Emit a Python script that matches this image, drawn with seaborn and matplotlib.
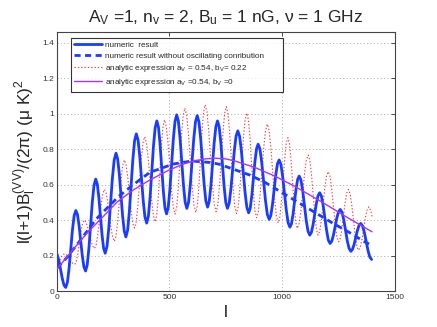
import numpy as np
import pandas as pd
import matplotlib
matplotlib.use("Agg")
import matplotlib.pyplot as plt
import seaborn as sns

# ---- data ----
# numeric result (solid blue)
l_num = [2, 10, 17.5, 25, 32.5, 40,
         47.5, 55, 62.5, 70, 77.5, 85,
         92.2, 99.3, 106.5, 113.7, 120.8, 128,
         135.5, 143, 150.5, 158, 165.5, 173,
         180, 187, 194, 201, 208, 215,
         223, 231, 239, 247, 255, 263,
         270.3, 277.7, 285, 292.3, 299.7, 307,
         314.7, 322.3, 330, 337.7, 345.3, 353,
         360.7, 368.3, 376, 383.7, 391.3, 399,
         406.5, 414, 421.5, 429, 436.5, 444,
         451.2, 458.3, 465.5, 472.7, 479.8, 487,
         494.5, 502, 509.5, 517, 524.5, 532,
         539.5, 547, 554.5, 562, 569.5, 577,
         584.7, 592.3, 600, 607.7, 615.3, 623,
         630.7, 638.3, 646, 653.7, 661.3, 669,
         676.3, 683.7, 691, 698.3, 705.7, 713,
         720.3, 727.7, 735, 742.3, 749.7, 757,
         764.7, 772.3, 780, 787.7, 795.3, 803,
         811, 819, 827, 835, 843, 851,
         858, 865, 872, 879, 886, 893,
         901.2, 909.3, 917.5, 925.7, 933.8, 942,
         949.3, 956.7, 964, 971.3, 978.7, 986,
         994, 1002, 1010, 1018, 1026, 1034,
         1040.8, 1047.7, 1054.5, 1061.3, 1068.2, 1075,
         1082.8, 1090.7, 1098.5, 1106.3, 1114.2, 1122,
         1129.3, 1136.7, 1144, 1151.3, 1158.7, 1166,
         1173.7, 1181.3, 1189, 1196.7, 1204.3, 1212,
         1219.5, 1227, 1234.5, 1242, 1249.5, 1257,
         1264.8, 1272.7, 1280.5, 1288.3, 1296.2, 1304,
         1311.3, 1318.7, 1326, 1333.3, 1340.7, 1348,
         1356, 1364, 1372, 1380, 1388, 1396]
v_num = [0.207, 0.17, 0.12, 0.07, 0.033, 0.02,
         0.049, 0.1285, 0.237, 0.3455, 0.425, 0.454,
         0.431, 0.369, 0.284, 0.198, 0.136, 0.113,
         0.148, 0.243, 0.372, 0.502, 0.596, 0.631,
         0.603, 0.527, 0.422, 0.318, 0.241, 0.213,
         0.251, 0.354, 0.495, 0.636, 0.739, 0.777,
         0.745, 0.659, 0.541, 0.423, 0.337, 0.305,
         0.344, 0.450, 0.596, 0.741, 0.847, 0.886,
         0.852, 0.760, 0.635, 0.509, 0.417, 0.383,
         0.422, 0.527, 0.671, 0.815, 0.920, 0.959,
         0.924, 0.828, 0.697, 0.566, 0.470, 0.435,
         0.472, 0.575, 0.714, 0.854, 0.956, 0.993,
         0.958, 0.861, 0.730, 0.598, 0.501, 0.466,
         0.501, 0.597, 0.728, 0.858, 0.954, 0.989,
         0.954, 0.860, 0.731, 0.602, 0.508, 0.473,
         0.506, 0.595, 0.716, 0.838, 0.926, 0.959,
         0.926, 0.836, 0.713, 0.589, 0.499, 0.466,
         0.495, 0.575, 0.685, 0.794, 0.874, 0.903,
         0.872, 0.788, 0.672, 0.557, 0.472, 0.441,
         0.467, 0.538, 0.635, 0.731, 0.802, 0.828,
         0.800, 0.722, 0.616, 0.510, 0.432, 0.404,
         0.426, 0.488, 0.572, 0.655, 0.717, 0.739,
         0.714, 0.644, 0.550, 0.455, 0.385, 0.36,
         0.379, 0.432, 0.504, 0.576, 0.629, 0.648,
         0.626, 0.565, 0.482, 0.398, 0.337, 0.315,
         0.331, 0.375, 0.435, 0.494, 0.538, 0.554,
         0.535, 0.483, 0.411, 0.340, 0.287, 0.268,
         0.281, 0.316, 0.364, 0.412, 0.447, 0.46,
         0.444, 0.401, 0.342, 0.283, 0.240, 0.224,
         0.235, 0.263, 0.303, 0.342, 0.371, 0.381,
         0.367, 0.330, 0.280, 0.229, 0.192, 0.178]

# numeric result without oscillating contribution (dashed blue)
l_mean = [2, 44, 103, 174, 211, 273, 341, 413, 517, 598, 687, 723, 805, 856, 923, 1004, 1078, 1152, 1226,
          1292, 1366, 1385]
v_mean = [0.13, 0.187, 0.283, 0.404, 0.452, 0.531, 0.601, 0.669, 0.716, 0.733, 0.724, 0.714, 0.677, 0.654,
          0.613, 0.551, 0.494, 0.4375, 0.381, 0.334, 0.277, 0.265]

# analytic expression b_V = 0.22 (red dotted)
l_ana = [2, 5, 12.5, 20, 27.5, 35,
         42.5, 50, 57.5, 65, 72.5, 80,
         87, 94, 101, 108, 115, 122,
         129.7, 137.3, 145, 152.7, 160.3, 168,
         175.3, 182.7, 190, 197.3, 204.7, 212,
         219.3, 226.7, 234, 241.3, 248.7, 256,
         263.3, 270.7, 278, 285.3, 292.7, 300,
         307.5, 315, 322.5, 330, 337.5, 345,
         352.5, 360, 367.5, 375, 382.5, 390,
         397.8, 405.7, 413.5, 421.3, 429.2, 437,
         443.8, 450.7, 457.5, 464.3, 471.2, 478,
         485.8, 493.7, 501.5, 509.3, 517.2, 525,
         532.2, 539.3, 546.5, 553.7, 560.8, 568,
         576.2, 584.3, 592.5, 600.7, 608.8, 617,
         623.8, 630.7, 637.5, 644.3, 651.2, 658,
         666.2, 674.3, 682.5, 690.7, 698.8, 707,
         714.5, 722, 729.5, 737, 744.5, 752,
         759.5, 767, 774.5, 782, 789.5, 797,
         804.7, 812.3, 820, 827.7, 835.3, 843,
         850.2, 857.3, 864.5, 871.7, 878.8, 886,
         894, 902, 910, 918, 926, 934,
         942, 950, 958, 966, 974, 982,
         989.2, 996.3, 1003.5, 1010.7, 1017.8, 1025,
         1032, 1039, 1046, 1053, 1060, 1067,
         1075, 1083, 1091, 1099, 1107, 1115,
         1122.3, 1129.7, 1137, 1144.3, 1151.7, 1159,
         1166.5, 1174, 1181.5, 1189, 1196.5, 1204,
         1211.7, 1219.3, 1227, 1234.7, 1242.3, 1250,
         1257.2, 1264.3, 1271.5, 1278.7, 1285.8, 1293,
         1300.5, 1308, 1315.5, 1323, 1330.5, 1338,
         1345.7, 1353.3, 1361, 1368.7, 1376.3, 1384,
         1392, 1400]
v_ana = [0.14, 0.15, 0.17, 0.19, 0.205, 0.21,
         0.206, 0.195, 0.18, 0.165, 0.154, 0.15,
         0.167, 0.2125, 0.275, 0.3375, 0.383, 0.40,
         0.389, 0.36, 0.32, 0.28, 0.251, 0.24,
         0.262, 0.323, 0.407, 0.490, 0.551, 0.573,
         0.553, 0.500, 0.427, 0.353, 0.300, 0.28,
         0.311, 0.395, 0.510, 0.624, 0.708, 0.739,
         0.713, 0.643, 0.547, 0.451, 0.381, 0.355,
         0.390, 0.484, 0.613, 0.741, 0.836, 0.87,
         0.838, 0.75, 0.63, 0.51, 0.422, 0.39,
         0.429, 0.534, 0.678, 0.821, 0.927, 0.965,
         0.929, 0.832, 0.700, 0.567, 0.470, 0.434,
         0.474, 0.583, 0.733, 0.882, 0.991, 1.031,
         0.992, 0.884, 0.737, 0.590, 0.482, 0.443,
         0.484, 0.595, 0.747, 0.898, 1.009, 1.05,
         1.010, 0.899, 0.749, 0.598, 0.487, 0.447,
         0.487, 0.595, 0.744, 0.892, 1.000, 1.04,
         1.000, 0.889, 0.739, 0.588, 0.477, 0.437,
         0.475, 0.579, 0.720, 0.862, 0.965, 1.003,
         0.964, 0.856, 0.708, 0.561, 0.453, 0.413,
         0.448, 0.545, 0.677, 0.809, 0.906, 0.941,
         0.904, 0.802, 0.663, 0.523, 0.421, 0.384,
         0.416, 0.504, 0.625, 0.745, 0.833, 0.865,
         0.831, 0.737, 0.609, 0.481, 0.387, 0.353,
         0.381, 0.457, 0.560, 0.664, 0.739, 0.767,
         0.737, 0.654, 0.541, 0.428, 0.345, 0.315,
         0.339, 0.405, 0.494, 0.584, 0.649, 0.673,
         0.647, 0.574, 0.475, 0.376, 0.304, 0.277,
         0.297, 0.351, 0.425, 0.499, 0.553, 0.573,
         0.550, 0.487, 0.402, 0.316, 0.253, 0.23,
         0.246, 0.291, 0.353, 0.414, 0.459, 0.475,
         0.455, 0.41]

# analytic expression b_V = 0 (magenta)
l_b0 = [2, 70, 140, 210, 266, 340, 413, 495, 560, 613, 660, 701, 750, 790, 878, 967, 1056, 1174, 1292, 1398]
v_b0 = [0.125, 0.23, 0.334, 0.425, 0.50, 0.57, 0.626, 0.68, 0.715, 0.735, 0.745, 0.749, 0.745, 0.733, 0.697,
        0.648, 0.59, 0.503, 0.412, 0.334]

x_ticks = [0, 500, 1000, 1500]
x_tick_labels = ["0", "500", "1000", "1500"]
y_ticks = [0, 0.2, 0.4, 0.6, 0.8, 1.0, 1.2, 1.4]
y_tick_labels = ["0", "0.2", "0.4", "0.6", "0.8", "1", "1.2", "1.4"]

labels = ["numeric  result",
          "numeric result without oscillating conribution",
          r"analytic expression a$_\mathregular{V}$ = 0.54, b$_\mathregular{V}$= 0.22",
          r"analytic expression a$_\mathregular{V}$ =0.54, b$_\mathregular{V}$ =0"]

# ---- style ----
sns.set_style("white")
plt.rcParams["font.family"] = ["Liberation Sans", "DejaVu Sans"]
plt.rcParams["mathtext.fontset"] = "custom"
plt.rcParams["mathtext.rm"] = "Liberation Sans"
plt.rcParams["mathtext.it"] = "Liberation Sans:italic"
plt.rcParams["mathtext.sf"] = "Liberation Sans"

fig = plt.figure(figsize=(4.37, 3.27), dpi=100)
ax = fig.add_axes([0.1297, 0.110, 0.904 - 0.1297, 0.902 - 0.110])

blue = "#1a3cff"
df_num = pd.DataFrame({"l": l_num, "v": v_num})
df_mean = pd.DataFrame({"l": l_mean, "v": v_mean})
df_ana = pd.DataFrame({"l": l_ana, "v": v_ana})
df_b0 = pd.DataFrame({"l": l_b0, "v": v_b0})

sns.lineplot(data=df_num, x="l", y="v", ax=ax, color=blue, lw=2.0, label=labels[0], zorder=3,
             solid_joinstyle="round")
sns.lineplot(data=df_mean, x="l", y="v", ax=ax, color=blue, lw=2.0, label=labels[1], zorder=4,
             linestyle=(0, (2.2, 1.6)))
sns.lineplot(data=df_ana, x="l", y="v", ax=ax, color="#ff3535", lw=0.8, label=labels[2], zorder=2,
             linestyle=(0, (1.2, 1.8)))
sns.lineplot(data=df_b0, x="l", y="v", ax=ax, color="#a833ff", lw=1.0, label=labels[3], zorder=5)

ax.set_xlim(0, 1500)
ax.set_ylim(0, 1.46)
ax.set_xticks(x_ticks)
ax.set_xticklabels(x_tick_labels)
ax.set_yticks(y_ticks)
ax.set_yticklabels(y_tick_labels)
ax.tick_params(direction="in", length=3, width=0.6, labelsize=6, top=True, right=True,
               colors="#333333", pad=2)
ax.grid(True, linestyle=(0, (1, 2.5)), color="#aaaaaa", linewidth=0.7)
for s in ax.spines.values():
    s.set_visible(True)
    s.set_color("#444444")
    s.set_linewidth(0.8)

ax.set_title("A$_\\mathregular{V}$ =1, n$_\\mathregular{v}$ = 2, B$_\\mathregular{u}$ = 1 nG, \u03bd = 1 GHz",
             fontsize=12.5, pad=7)
ax.set_xlabel("l", fontsize=12.5, labelpad=3)
ax.set_ylabel("l(l+1)B$_\\mathregular{l}^\\mathregular{(VV)}$/(2\u03c0) (\u03bc K)$^\\mathregular{2}$",
              fontsize=12.5, labelpad=3)

handles, _ = ax.get_legend_handles_labels()
# MATLAB leaves extra room on the right of the legend text; pad the widest entry
shown = [labels[0], labels[1] + "\u2003\u2003", labels[2], labels[3]]
leg = ax.legend(handles, shown, loc="upper left", bbox_to_anchor=(0.041, 0.976), borderaxespad=0,
                fontsize=5.9, frameon=True, fancybox=False, edgecolor="black", handlelength=3.4,
                handletextpad=0.4, labelspacing=0.38, borderpad=0.4)
leg.get_frame().set_linewidth(0.8)

fig.savefig("out.png", dpi=100)
